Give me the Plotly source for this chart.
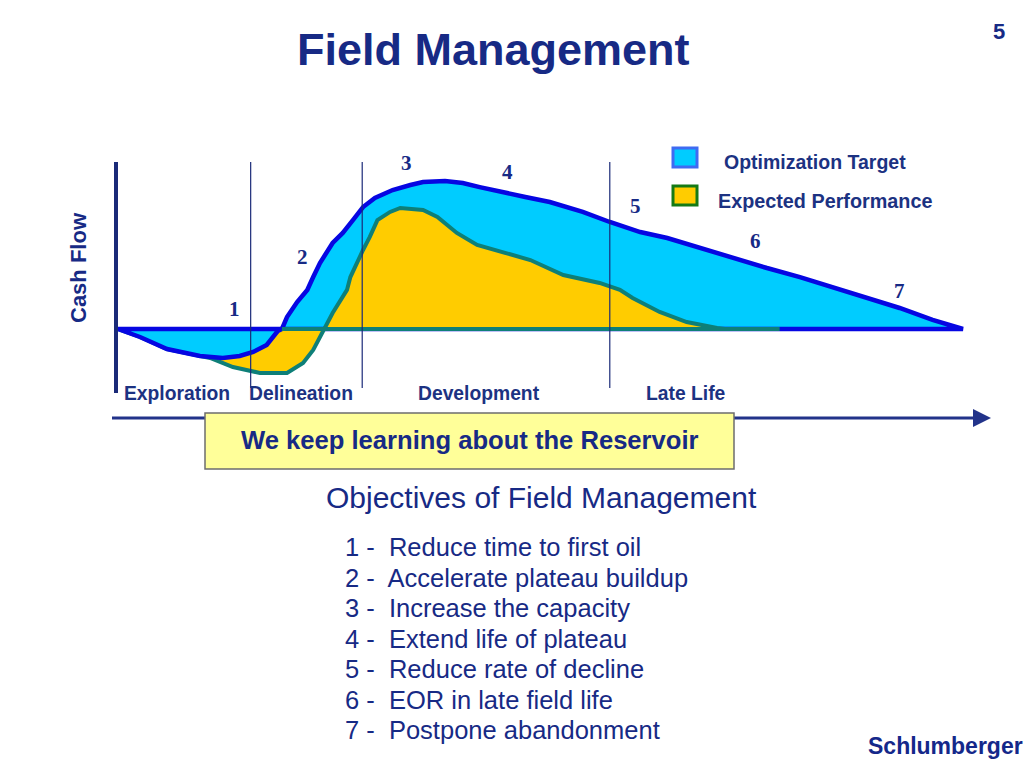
import plotly.graph_objects as go

# ---------------- data (time in % of field life, cash flow in % of peak) ----------------
target_neg_t = [0.0, 2.6, 5.8, 9.7, 12.4, 14.4, 16.0, 17.6, 18.9, 19.4, 0.0]
target_neg_v = [0.0, -5.4, -13.5, -18.2, -19.6, -18.2, -15.5, -10.8, -1.4, 0.0, 0.0]

target_pos_t = [19.4, 20.0, 21.2, 22.4, 23.1, 23.9, 25.4, 26.6, 27.8, 29.0, 30.4, 32.5, 34.6,
                36.1, 38.7, 40.8, 42.8, 45.2, 48.2, 51.1, 55.0, 58.2, 61.8, 65.0, 68.9,
                72.8, 76.8, 80.7, 84.6, 88.6, 92.5, 96.4, 100.0, 19.4]
target_pos_v = [0.0, 8.1, 18.2, 26.4, 35.1, 44.6, 58.1, 64.9, 73.6, 82.4, 88.5, 93.9, 97.3,
                99.3, 100.0, 98.6, 95.9, 92.6, 89.2, 85.8, 79.1, 72.3, 65.5, 61.5, 54.7,
                48.0, 41.2, 35.1, 28.4, 21.6, 14.2, 6.1, 0.0, 0.0]

expected_t = [0.0, 2.6, 5.8, 9.7, 10.9, 13.6, 16.8, 20.0, 21.9, 23.1, 23.9, 24.3, 25.4, 27.1,
              27.5, 29.0, 29.8, 30.7, 32.2, 33.4, 36.1, 37.8, 40.1, 42.5, 46.0, 48.8, 52.7,
              57.0, 59.4, 60.9, 64.1, 67.3, 70.9, 71.8]
expected_v = [0.0, -5.4, -13.5, -18.2, -19.6, -25.7, -29.7, -29.7, -23.0, -14.2, -5.4, 0.0, 10.8,
              26.4, 35.1, 53.4, 62.2, 73.6, 79.1, 81.8, 80.4, 75.7, 64.9, 56.8, 51.4, 46.6, 36.5,
              31.1, 26.4, 21.0, 11.5, 4.7, 0.7, 0.0]

expected_base_t = [19.4, 78.3]
expected_base_v = [0.0, 0.0]

phase_names = ["Exploration", "Delineation", "Development", "Late Life"]
phase_label_t = [7.0, 21.6, 42.7, 67.2]
phase_bounds = [15.7, 28.9, 58.2]

milestone_labels = ["1", "2", "3", "4", "5", "6", "7"]
milestone_t = [13.8, 21.8, 34.1, 46.1, 61.2, 75.5, 92.5]
milestone_v = [13.5, 48.6, 112.2, 106.1, 83.1, 59.5, 25.7]

legend_names = ["Optimization Target", "Expected Performance"]

objectives = [
    "1 -  Reduce time to first oil",
    "2 -  Accelerate plateau buildup",
    "3 -  Increase the capacity",
    "4 -  Extend life of plateau",
    "5 -  Reduce rate of decline",
    "6 -  EOR in late field life",
    "7 -  Postpone abandonment",
]

# ---------------- styling ----------------
W, H = 1024, 768
LIGHT_BLUE = "#00CCFF"
BLUE_LINE = "#0606E2"
YELLOW = "#FFCC00"
TEAL = "#0E7F78"
NAVY = "#172A85"
NAVY2 = "#1C3282"
FONT = "Liberation Sans, Arial, sans-serif"
SERIF = "Liberation Serif, Times New Roman, serif"

def px(x):
    return x / W

def py(y):
    return 1 - y / H

# data axis mapping: t=0 at x=118 px, t=100 at x=963 px; v=0 at y=329 px, v=100 at y=181 px
sx = 8.45
sy = 1.48
x_range = [-118 / sx, (W - 118) / sx]
y_range = [-(H - 329) / sy, 329 / sy]

fig = go.Figure()

fig.add_trace(go.Scatter(x=target_pos_t, y=target_pos_v, mode="lines", fill="toself",
                         fillcolor=LIGHT_BLUE, line=dict(color=BLUE_LINE, width=4.5),
                         hoverinfo="skip", showlegend=False))
fig.add_trace(go.Scatter(x=expected_t, y=expected_v, mode="lines", fill="toself",
                         fillcolor=YELLOW, line=dict(color=TEAL, width=4),
                         hoverinfo="skip", showlegend=False))
fig.add_trace(go.Scatter(x=target_neg_t, y=target_neg_v, mode="lines", fill="toself",
                         fillcolor=LIGHT_BLUE, line=dict(color=BLUE_LINE, width=4.5),
                         hoverinfo="skip", showlegend=False))
fig.add_trace(go.Scatter(x=expected_base_t, y=expected_base_v, mode="lines",
                         line=dict(color=TEAL, width=4), hoverinfo="skip", showlegend=False))

shapes = []
shapes.append(dict(type="line", xref="paper", yref="paper", x0=px(116), x1=px(116),
                   y0=py(162), y1=py(393), line=dict(color="#1A2A78", width=4)))
for b in phase_bounds:
    shapes.append(dict(type="line", xref="x", yref="paper", x0=b, x1=b,
                       y0=py(162), y1=py(388), line=dict(color="#1A2A78", width=1.2)))
shapes.append(dict(type="line", xref="paper", yref="paper", x0=px(112), x1=px(984),
                   y0=py(418), y1=py(418), line=dict(color="#22338A", width=3)))
shapes.append(dict(type="rect", xref="paper", yref="paper", x0=px(205), x1=px(734),
                   y0=py(469), y1=py(413), fillcolor="#FFFF99",
                   line=dict(color="#6E6E6E", width=1.5)))
shapes.append(dict(type="rect", xref="paper", yref="paper", x0=px(673), x1=px(697),
                   y0=py(167), y1=py(148), fillcolor=LIGHT_BLUE,
                   line=dict(color="#3F6BF2", width=3)))
shapes.append(dict(type="rect", xref="paper", yref="paper", x0=px(673), x1=px(697),
                   y0=py(205), y1=py(186), fillcolor=YELLOW,
                   line=dict(color="#157A15", width=3)))

ann = []

def text_at(text, x, y, size, color=NAVY, family=FONT, xanchor="center", **kw):
    ann.append(dict(text=text, x=px(x), y=py(y), xref="paper", yref="paper",
                    xanchor=xanchor, yanchor="middle", showarrow=False,
                    font=dict(family=family, size=size, color=color), **kw))

text_at("<b>Field Management</b>", 493, 50, 45)
text_at("<b>5</b>", 999, 32, 22)
text_at("<b>Cash Flow</b>", 79, 268, 22, textangle=-90)
text_at("<b>" + legend_names[0] + "</b>", 722, 162, 19.5, color=NAVY2, xanchor="left")
text_at("<b>" + legend_names[1] + "</b>", 716, 201, 19.8, color=NAVY2, xanchor="left")

for lab, t, v in zip(milestone_labels, milestone_t, milestone_v):
    ann.append(dict(text="<b>" + lab + "</b>", x=t, y=v, xref="x", yref="y", showarrow=False,
                    xanchor="center", yanchor="middle",
                    font=dict(family=SERIF, size=21, color=NAVY)))
for name, t in zip(phase_names, phase_label_t):
    ann.append(dict(text="<b>" + name + "</b>", x=t, y=py(393), xref="x", yref="paper",
                    xanchor="center", yanchor="middle", showarrow=False,
                    font=dict(family=FONT, size=19.3, color=NAVY2)))

ann.append(dict(text="", x=px(991), y=py(418), xref="paper", yref="paper", showarrow=True,
                ax=-14, ay=0, arrowhead=2, arrowsize=1.2, arrowwidth=3, arrowcolor="#22338A"))

text_at("<b>We keep learning about the Reservoir</b>", 470, 440, 25.6)
text_at("Objectives of Field Management", 541, 497, 30)
for i, line in enumerate(objectives):
    text_at(line, 343, 547 + i * 30.5, 25.5, xanchor="left")
text_at("<b>Schlumberger</b>", 945, 746, 23, color="#14288A")

fig.update_layout(
    width=W, height=H,
    margin=dict(l=0, r=0, t=0, b=0),
    paper_bgcolor="white", plot_bgcolor="white",
    xaxis=dict(range=x_range, visible=False, fixedrange=True),
    yaxis=dict(range=y_range, visible=False, fixedrange=True),
    shapes=shapes, annotations=ann, showlegend=False,
)

fig.write_html("out.html", config={"displayModeBar": False},
               post_script="document.body.style.margin='0';")
